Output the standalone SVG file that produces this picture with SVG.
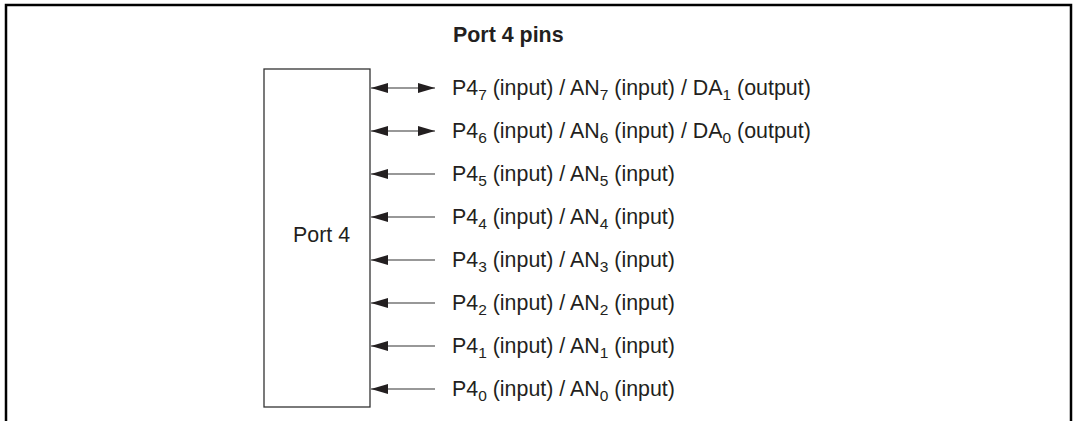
<svg xmlns="http://www.w3.org/2000/svg" width="1075" height="421" viewBox="0 0 1075 421">
<defs>
<style>
text{font-family:"Liberation Sans",Arial,sans-serif;fill:#231f20;font-size:21.4px}
.t{font-weight:bold}
.s{font-size:15.5px}
.c{stroke:#333;stroke-width:1.2;fill:none}
.box{fill:#fff;stroke:#333;stroke-width:1.3}
</style>
<marker id="ah" viewBox="0 0 17 10" refX="17" refY="5" markerWidth="17" markerHeight="10" markerUnits="userSpaceOnUse" orient="auto-start-reverse">
<path d="M0,0 L17,5 L0,10 Z" fill="#231f20"/>
</marker>
</defs>
<rect width="1075" height="421" fill="#fff"/>
<path d="M6,421 V5 H1071 V421" fill="none" stroke="#000" stroke-width="2.5"/>
<text class="t" x="453" y="42">Port 4 pins</text>
<g id="port4">
<rect class="box" x="264" y="69" width="106" height="338"/>
<text x="293" y="242">Port 4</text>
</g>
<g id="connectors">
<line class="c" x1="371" y1="88" x2="435" y2="88" marker-start="url(#ah)" marker-end="url(#ah)"/>
<line class="c" x1="371" y1="131" x2="435" y2="131" marker-start="url(#ah)" marker-end="url(#ah)"/>
<line class="c" x1="371" y1="174" x2="435" y2="174" marker-start="url(#ah)"/>
<line class="c" x1="371" y1="217" x2="435" y2="217" marker-start="url(#ah)"/>
<line class="c" x1="371" y1="260" x2="435" y2="260" marker-start="url(#ah)"/>
<line class="c" x1="371" y1="303" x2="435" y2="303" marker-start="url(#ah)"/>
<line class="c" x1="371" y1="346" x2="435" y2="346" marker-start="url(#ah)"/>
<line class="c" x1="371" y1="389" x2="435" y2="389" marker-start="url(#ah)"/>
</g>
<g id="pin7"><text x="452" y="95">P4<tspan class="s" dy="5">7</tspan><tspan dy="-5"> (input) / AN</tspan><tspan class="s" dy="5">7</tspan><tspan dy="-5"> (input) / DA</tspan><tspan class="s" dy="5">1</tspan><tspan dy="-5"> (output)</tspan></text></g>
<g id="pin6"><text x="452" y="138">P4<tspan class="s" dy="5">6</tspan><tspan dy="-5"> (input) / AN</tspan><tspan class="s" dy="5">6</tspan><tspan dy="-5"> (input) / DA</tspan><tspan class="s" dy="5">0</tspan><tspan dy="-5"> (output)</tspan></text></g>
<g id="pin5"><text x="452" y="181">P4<tspan class="s" dy="5">5</tspan><tspan dy="-5"> (input) / AN</tspan><tspan class="s" dy="5">5</tspan><tspan dy="-5"> (input)</tspan></text></g>
<g id="pin4"><text x="452" y="224">P4<tspan class="s" dy="5">4</tspan><tspan dy="-5"> (input) / AN</tspan><tspan class="s" dy="5">4</tspan><tspan dy="-5"> (input)</tspan></text></g>
<g id="pin3"><text x="452" y="267">P4<tspan class="s" dy="5">3</tspan><tspan dy="-5"> (input) / AN</tspan><tspan class="s" dy="5">3</tspan><tspan dy="-5"> (input)</tspan></text></g>
<g id="pin2"><text x="452" y="310">P4<tspan class="s" dy="5">2</tspan><tspan dy="-5"> (input) / AN</tspan><tspan class="s" dy="5">2</tspan><tspan dy="-5"> (input)</tspan></text></g>
<g id="pin1"><text x="452" y="353">P4<tspan class="s" dy="5">1</tspan><tspan dy="-5"> (input) / AN</tspan><tspan class="s" dy="5">1</tspan><tspan dy="-5"> (input)</tspan></text></g>
<g id="pin0"><text x="452" y="396">P4<tspan class="s" dy="5">0</tspan><tspan dy="-5"> (input) / AN</tspan><tspan class="s" dy="5">0</tspan><tspan dy="-5"> (input)</tspan></text></g>
</svg>
